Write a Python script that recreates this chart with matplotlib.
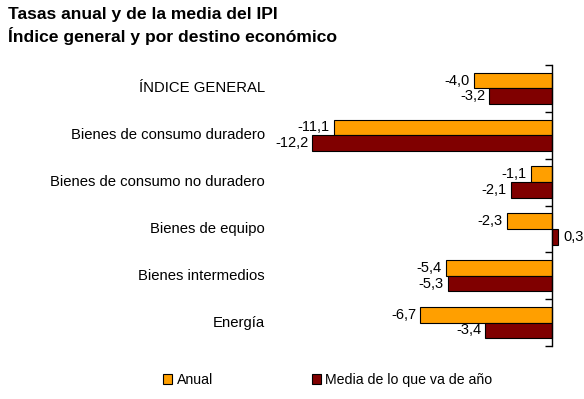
import matplotlib
matplotlib.use("Agg")
import matplotlib.pyplot as plt
import matplotlib.transforms as mtransforms
from matplotlib.patches import Patch
import numpy as np

plt.rcParams['font.family'] = ['Liberation Sans', 'DejaVu Sans']

categories = ["ÍNDICE GENERAL", "Bienes de consumo duradero", "Bienes de consumo no duradero",
              "Bienes de equipo", "Bienes intermedios", "Energía"]
anual = [-4.0, -11.1, -1.1, -2.3, -5.4, -6.7]
media = [-3.2, -12.2, -2.1, 0.3, -5.3, -3.4]
series_names = ["Anual", "Media de lo que va de año"]
colors = ["#FF9F00", "#800000"]

fig = plt.figure(figsize=(5.84, 3.99), dpi=100)
W, H = 584, 399
ax_left, ax_right, ax_top, ax_bottom = 277, 562, 65, 346
ax = fig.add_axes([ax_left / W, 1 - ax_bottom / H, (ax_right - ax_left) / W, (ax_bottom - ax_top) / H])

y = np.arange(len(categories))
h = 0.335
off = 0.168
bars1 = ax.barh(y - off, anual, height=h, color=colors[0], edgecolor='black', linewidth=0.8)
bars2 = ax.barh(y + off, media, height=h, color=colors[1], edgecolor='black', linewidth=0.8)

ax.set_xlim(-14, 0.5)
ax.set_ylim(len(categories) - 0.5, -0.5)

for s in ['top', 'right', 'bottom']:
    ax.spines[s].set_visible(False)
ax.spines['left'].set_position(('data', 0))
ax.spines['left'].set_linewidth(1.0)
ax.set_yticks(np.arange(len(categories) + 1) - 0.5)
ax.set_yticklabels([])
ax.tick_params(axis='y', direction='out', length=5, width=1.0)
ax.set_xticks([])

def fmt(v):
    return f"{v:.1f}".replace('.', ',')

fs = 10.5
for bars, vals in ((bars1, anual), (bars2, media)):
    for b, v in zip(bars, vals):
        yc = b.get_y() + b.get_height() / 2
        if v < 0:
            ax.annotate(fmt(v), (v, yc), xytext=(-3, 0), textcoords='offset points',
                        ha='right', va='center', fontsize=fs, clip_on=False)
        else:
            ax.annotate(fmt(v), (v, yc), xytext=(4, 0), textcoords='offset points',
                        ha='left', va='center', fontsize=fs, clip_on=False)

trans = mtransforms.blended_transform_factory(ax.transAxes, ax.transData)
for i, c in enumerate(categories):
    ax.text((265 - ax_left) / (ax_right - ax_left), i, c, transform=trans,
            ha='right', va='center', fontsize=10.7)

fig.text(8 / W, 1 - 14 / H, "Tasas anual y de la media del IPI", fontsize=12.6,
         fontweight='bold', ha='left', va='center')
fig.text(8 / W, 1 - 36 / H, "Índice general y por destino económico", fontsize=12.6,
         fontweight='bold', ha='left', va='center')

handles = [Patch(facecolor=colors[0], edgecolor='black', linewidth=0.8),
           Patch(facecolor=colors[1], edgecolor='black', linewidth=0.8)]
fig.legend(handles, series_names, loc='center left', bbox_to_anchor=(156 / W, 1 - 380 / H),
           ncol=2, frameon=False, fontsize=10.2, handlelength=0.65, handleheight=0.65,
           handletextpad=0.3, columnspacing=7.0, borderpad=0)

fig.savefig("out.png", dpi=100)
